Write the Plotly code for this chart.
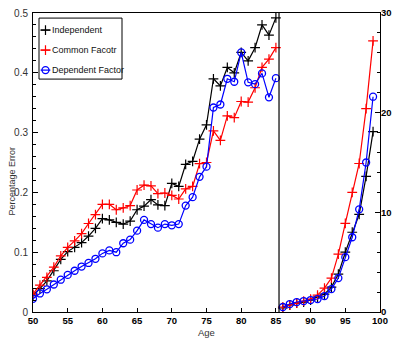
import plotly.graph_objects as go

# Ages split into the two panels
ages_left = list(range(50, 86))
ages_right = list(range(86, 100))

# Percentage error, ages 50-85 (left axis)
independent_left = [0.028, 0.039, 0.052, 0.069, 0.088, 0.101, 0.108, 0.116, 0.127, 0.140,
                    0.156, 0.154, 0.150, 0.147, 0.152, 0.171, 0.177, 0.188, 0.179, 0.178,
                    0.215, 0.210, 0.247, 0.252, 0.289, 0.313, 0.390, 0.378, 0.409, 0.400,
                    0.434, 0.420, 0.442, 0.480, 0.463, 0.492]
common_left = [0.030, 0.045, 0.058, 0.075, 0.094, 0.108, 0.119, 0.131, 0.148, 0.163,
               0.180, 0.180, 0.171, 0.174, 0.178, 0.204, 0.212, 0.211, 0.198, 0.199,
               0.195, 0.189, 0.206, 0.210, 0.248, 0.250, 0.303, 0.287, 0.328, 0.325,
               0.352, 0.351, 0.375, 0.409, 0.423, 0.442]
dependent_left = [0.022, 0.031, 0.038, 0.046, 0.054, 0.062, 0.069, 0.076, 0.082, 0.089,
                  0.098, 0.103, 0.100, 0.115, 0.121, 0.136, 0.154, 0.147, 0.141, 0.147,
                  0.145, 0.147, 0.178, 0.192, 0.226, 0.243, 0.342, 0.347, 0.390, 0.385,
                  0.434, 0.384, 0.381, 0.399, 0.359, 0.391]

# Percentage error, ages 86-99 (right axis)
independent_right = [0.4, 0.7, 0.9, 1.0, 1.2, 1.5, 1.8, 2.5, 3.8, 6.0, 8.0, 9.8, 13.6, 18.1]
common_right = [0.5, 0.7, 0.9, 1.1, 1.3, 1.7, 2.4, 3.4, 5.8, 8.9, 12.0, 14.9, 20.4, 27.2]
dependent_right = [0.5, 0.8, 1.0, 1.1, 1.2, 1.3, 1.6, 2.3, 3.4, 5.5, 7.5, 10.3, 15.0, 21.6]

series_names = ["Independent", "Common Facotr", "Dependent Factor"]
series_colors = ["#000000", "#ff0000", "#0000ff"]
series_symbols = ["cross-thin", "cross-thin", "circle-open"]

x_ticks = list(range(50, 101, 5))
panel_split = 85.45

FONT = "Liberation Sans, Arial, sans-serif"

fig = go.Figure()

left_sets = [independent_left, common_left, dependent_left]
right_sets = [independent_right, common_right, dependent_right]


def marker_for(i):
    if series_symbols[i] == "circle-open":
        return dict(symbol="circle-open", size=7, color=series_colors[i],
                    line=dict(width=1.3, color=series_colors[i]))
    return dict(symbol="cross-thin", size=7, color=series_colors[i],
                line=dict(width=1.2, color=series_colors[i]))


for i in range(3):
    fig.add_trace(go.Scatter(
        x=ages_left, y=left_sets[i], mode="lines+markers", name=series_names[i],
        line=dict(color=series_colors[i], width=1.2), marker=marker_for(i),
        xaxis="x", yaxis="y", showlegend=False))
    fig.add_trace(go.Scatter(
        x=ages_right, y=right_sets[i], mode="lines+markers", name=series_names[i],
        line=dict(color=series_colors[i], width=1.2), marker=marker_for(i),
        xaxis="x", yaxis="y2", showlegend=False))

# Legend key glyphs on a hidden unit overlay
legend_rows = [0.943, 0.876, 0.809]
for i in range(3):
    fig.add_trace(go.Scatter(
        x=[0.022, 0.036, 0.050], y=[legend_rows[i]] * 3, mode="lines",
        line=dict(color=series_colors[i], width=1.2),
        xaxis="x2", yaxis="y3", showlegend=False, hoverinfo="skip"))
    fig.add_trace(go.Scatter(
        x=[0.036], y=[legend_rows[i]], mode="markers", marker=marker_for(i),
        xaxis="x2", yaxis="y3", showlegend=False, hoverinfo="skip"))
    fig.add_annotation(
        x=0.050, y=legend_rows[i], xref="paper", yref="paper", text=series_names[i],
        showarrow=False, xanchor="left", yanchor="middle",
        font=dict(family=FONT, size=9, color="#111111"))

fig.add_shape(type="rect", xref="paper", yref="paper", x0=0.0173, x1=0.2565,
              y0=0.779, y1=0.983, line=dict(color="black", width=1),
              fillcolor="rgba(0,0,0,0)")

# Divider between the two age panels
fig.add_shape(type="line", xref="x", yref="paper", x0=panel_split, x1=panel_split,
              y0=0, y1=1, line=dict(color="black", width=1.2))

fig.add_annotation(x=-0.059, y=0.438, xref="paper", yref="paper", text="Percentage Error",
                   textangle=-90, showarrow=False, xanchor="center", yanchor="middle",
                   font=dict(family=FONT, size=9, color="#333333"))
fig.add_annotation(x=0.5, y=-0.07, xref="paper", yref="paper", text="Age",
                   showarrow=False, xanchor="center", yanchor="middle",
                   font=dict(family=FONT, size=9.5, color="#333333"))

fig.update_layout(
    width=393, height=341,
    margin=dict(l=33, r=13, t=13, b=29, autoexpand=False),
    paper_bgcolor="white", plot_bgcolor="white",
    xaxis=dict(range=[50, 100], tickvals=x_ticks, ticks="inside", ticklen=4,
               tickcolor="black", showline=True, linecolor="black", linewidth=1,
               mirror=True, showgrid=False, zeroline=False, automargin=False,
               tickfont=dict(family=FONT, size=9.5, color="black", weight="bold")),
    yaxis=dict(range=[0, 0.5], dtick=0.1, ticks="inside", ticklen=5, tickcolor="black",
               showline=True, linecolor="black", linewidth=1, showgrid=False,
               zeroline=False, ticklabelstandoff=2, automargin=False,
               minor=dict(dtick=0.02, ticks="inside", ticklen=3, tickcolor="black"),
               tickfont=dict(family=FONT, size=10, color="#333333")),
    yaxis2=dict(range=[0, 30], dtick=10, overlaying="y", side="right", ticks="inside",
                ticklen=5, tickcolor="black", showline=True, linecolor="black",
                linewidth=1, showgrid=False, zeroline=False, automargin=False,
                ticklabelstandoff=-2,
                minor=dict(dtick=2, ticks="inside", ticklen=3, tickcolor="black"),
                tickfont=dict(family=FONT, size=9.5, color="black", weight="bold")),
    xaxis2=dict(range=[0, 1], overlaying="x", visible=False),
    yaxis3=dict(range=[0, 1], overlaying="y", visible=False),
)

fig.write_html("out.html")
